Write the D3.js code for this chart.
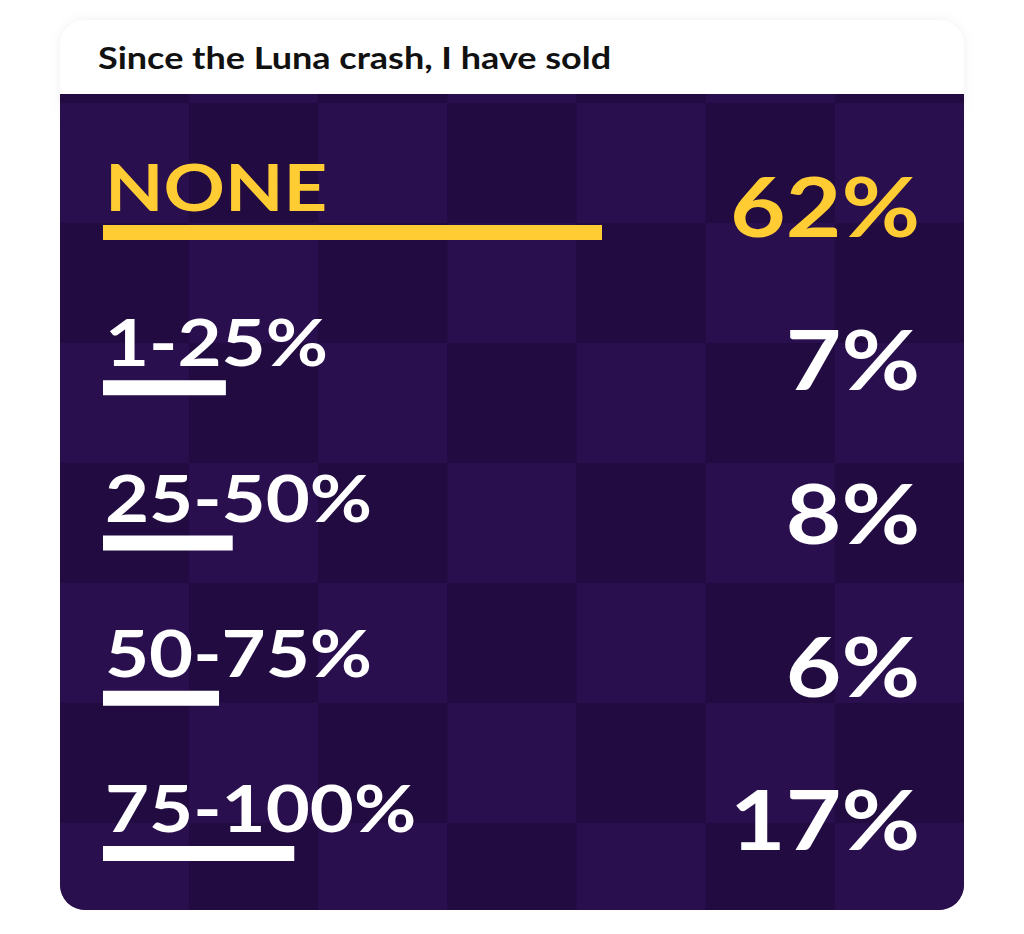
<!DOCTYPE html>
<html>
<head>
<meta charset="utf-8">
<script src="https://cdn.jsdelivr.net/npm/d3@7"></script>
<style>
  body { margin: 0; background: #fff; }
  svg { display: block; }
</style>
</head>
<body>
<div id="chart"></div>
<script>
// data
const title = "Since the Luna crash, I have sold";
const categories = ["NONE", "1-25%", "25-50%", "50-75%", "75-100%"];
const values = [62, 7, 8, 6, 17];
const highlight = "NONE";

const W = 1024, H = 934;
const card = {left: 60, right: 964, top: 20, head: 94, bottom: 910, r: 25};
const stretch = 1.17; // the original face is wider than Lato

const svg = d3.select("#chart")
    .append("svg")
    .attr("width", W)
    .attr("height", H);

const defs = svg.append("defs");

// soft shadow for the header
const shadow = defs.append("filter")
    .attr("id", "soft")
    .attr("x", "-10%").attr("y", "-50%")
    .attr("width", "120%").attr("height", "200%");
shadow.append("feDropShadow")
    .attr("dx", 0).attr("dy", 0)
    .attr("stdDeviation", 6)
    .attr("flood-color", "#000")
    .attr("flood-opacity", 0.06);

// body shape: square top, rounded bottom
const bodyPath = d3.path();
bodyPath.moveTo(card.left, card.head);
bodyPath.lineTo(card.right, card.head);
bodyPath.lineTo(card.right, card.bottom - card.r);
bodyPath.arcTo(card.right, card.bottom, card.right - card.r, card.bottom, card.r);
bodyPath.lineTo(card.left + card.r, card.bottom);
bodyPath.arcTo(card.left, card.bottom, card.left, card.bottom - card.r, card.r);
bodyPath.closePath();

defs.append("clipPath")
    .attr("id", "bodyClip")
    .append("path")
    .attr("d", bodyPath.toString());

// header card
svg.append("rect")
    .attr("x", card.left)
    .attr("y", card.top)
    .attr("width", card.right - card.left)
    .attr("height", card.head - card.top + 30)
    .attr("rx", card.r)
    .attr("fill", "#fff")
    .attr("filter", "url(#soft)");

svg.append("text")
    .attr("transform", "translate(98,69) scale(1.2,1)")
    .attr("font-family", "Lato, sans-serif")
    .attr("font-weight", 700)
    .attr("font-size", "30px")
    .attr("fill", "#111")
    .text(title);

// checkerboard background
const body = svg.append("g").attr("clip-path", "url(#bodyClip)");
body.append("path")
    .attr("d", bodyPath.toString())
    .attr("fill", "#250d47");

const cols = d3.range(7), rows = d3.range(8);
const colScale = d3.scaleBand().domain(cols).range([card.left, card.right]);
const rowScale = d3.scaleBand().domain(rows).range([-17, 943]);

body.selectAll(".cell")
    .data(d3.cross(rows, cols))
    .enter()
    .append("rect")
    .attr("x", d => colScale(d[1]))
    .attr("y", d => rowScale(d[0]))
    .attr("width", colScale.bandwidth())
    .attr("height", rowScale.bandwidth())
    .attr("fill", d => (d[0] + d[1]) % 2 === 1 ? "#2a0f4f" : "#210b41");

// scales for the rows
const yLabel = d3.scalePoint().domain(categories).range([211, 832]);
const yValue = d3.scalePoint().domain(categories).range([237, 850]);
const xBar = d3.scaleLinear().domain([0, d3.max(values)]).range([75, 499]);

const rowsData = categories.map((c, i) => ({cat: c, value: values[i]}));
const colour = d => d.cat === highlight ? "#ffcc33" : "#ffffff";

// bars
svg.selectAll(".bar")
    .data(rowsData)
    .enter()
    .append("rect")
    .attr("x", 103)
    .attr("y", d => yLabel(d.cat) + 14)
    .attr("width", d => xBar(d.value))
    .attr("height", 15)
    .attr("fill", colour);

// labels
svg.selectAll(".label")
    .data(rowsData)
    .enter()
    .append("text")
    .attr("transform", d => `translate(105,${yLabel(d.cat)}) scale(${stretch},1)`)
    .attr("font-family", "Lato, sans-serif")
    .attr("font-weight", 700)
    .attr("font-size", "65px")
    .attr("fill", colour)
    .text(d => d.cat);

// values
svg.selectAll(".value")
    .data(rowsData)
    .enter()
    .append("text")
    .attr("transform", d => `translate(920,${yValue(d.cat)}) scale(${stretch},1)`)
    .attr("text-anchor", "end")
    .attr("font-family", "Lato, sans-serif")
    .attr("font-weight", 700)
    .attr("font-size", "82px")
    .attr("fill", colour)
    .text(d => d.value + "%");
</script>
</body>
</html>
